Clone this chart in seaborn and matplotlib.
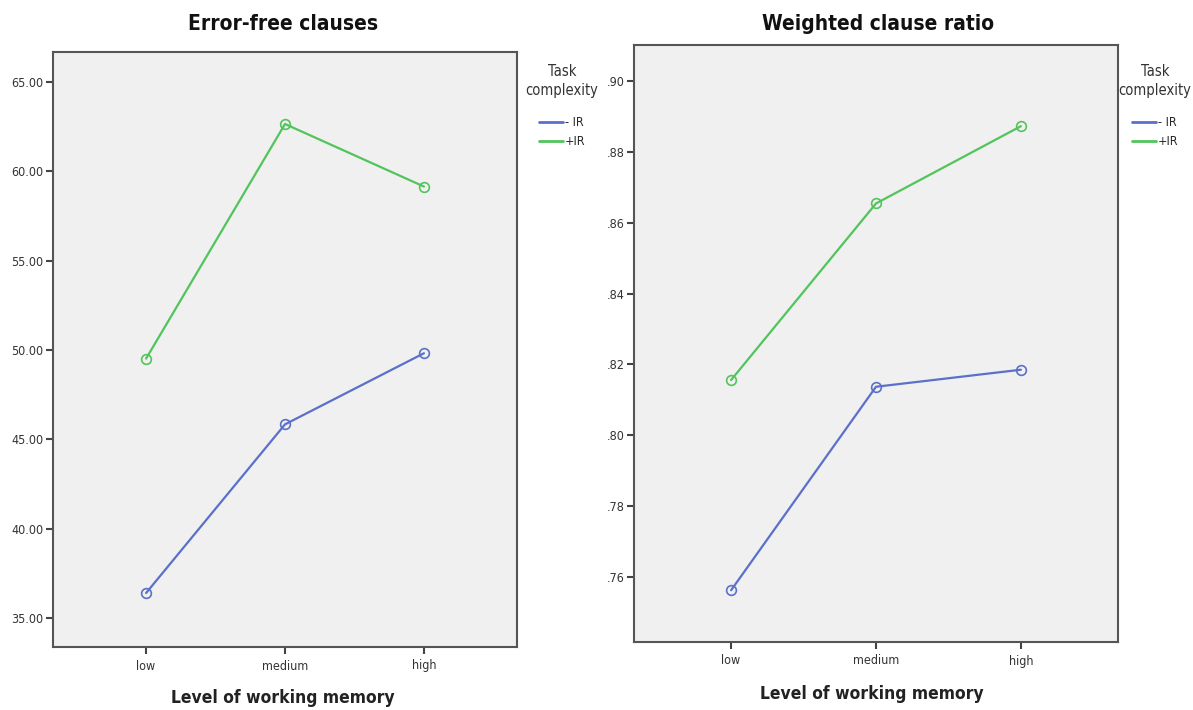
import numpy as np
import pandas as pd
import matplotlib
matplotlib.use("Agg")
import matplotlib.pyplot as plt
import seaborn as sns
from matplotlib.lines import Line2D
import logging
logging.getLogger("matplotlib.font_manager").setLevel(logging.ERROR)

# ---- data ----
wm_levels = ["low", "medium", "high"]
groups = ["- IR", "+IR"]
errfree_minus = [36.40, 45.84, 49.82]
errfree_plus = [49.52, 62.65, 59.15]
wcr_minus = [0.7563, 0.8137, 0.8185]
wcr_plus = [0.8156, 0.8654, 0.8872]
left_ticks = [35, 40, 45, 50, 55, 60, 65]
right_ticks = [0.76, 0.78, 0.80, 0.82, 0.84, 0.86, 0.88, 0.90]

colors = {"- IR": "#5b70c9", "+IR": "#52c45c"}

NARROW = ["DejaVu Sans Condensed", "Liberation Sans Narrow", "DejaVu Sans"]

sns.set_theme(style="white")
plt.rcParams["font.family"] = NARROW
plt.rcParams["font.stretch"] = "condensed"

def make_df(minus, plus):
    return pd.DataFrame({
        "wm": wm_levels * 2,
        "group": [groups[0]] * 3 + [groups[1]] * 3,
        "value": list(minus) + list(plus),
    })

W, H = 1193, 710
fig = plt.figure(figsize=(W / 100, H / 100), dpi=100)
ax1 = fig.add_axes([53/W, 63/H, 464/W, 595/H])
ax2 = fig.add_axes([634/W, 68/H, 484/W, 597/H])

def draw(ax, df, ylim, ticks, fmt, title, title_x, leg_x, xlab_x, xlab_y):
    sns.lineplot(data=df, x="wm", y="value", hue="group", palette=colors,
                 hue_order=groups, marker="o", markersize=7, linewidth=1.6,
                 sort=False, legend=False, ax=ax)
    for ln in ax.lines:
        c = ln.get_color()
        ln.set_markerfacecolor("none")
        ln.set_markeredgecolor(c)
        ln.set_markeredgewidth(1.2)
    ax.set_facecolor("#f0f0f0")
    for s in ax.spines.values():
        s.set_visible(True)
        s.set_color("#555555")
        s.set_linewidth(1.5)
    ax.set_xlim(-0.67, 2.67)
    ax.set_ylim(*ylim)
    ax.set_yticks(ticks)
    ax.set_yticklabels([fmt(t) for t in ticks])
    ax.tick_params(axis="both", direction="out", length=5, width=1.5,
                   color="#444444", labelsize=9, labelcolor="#333333",
                   left=True, bottom=True, pad=2)
    ax.tick_params(axis="x", pad=4)
    ax.set_xlabel("")
    ax.set_ylabel("")
    fig.text(xlab_x / W, 1 - xlab_y / H, "Level of working memory",
             fontsize=12.5, fontweight="bold", color="#222222",
             ha="center", va="center")
    fig.text(title_x / W, 1 - 24 / H, title, fontsize=15, fontweight="bold",
             color="#111111", ha="center", va="center")
    handles = [Line2D([0], [0], color=colors[g], lw=2) for g in groups]
    leg = ax.legend(handles, groups, title="Task\ncomplexity",
                    loc="upper center", bbox_to_anchor=(leg_x / W, 1 - 64 / H),
                    bbox_transform=fig.transFigure,
                    frameon=False, fontsize=9, title_fontsize=10.5,
                    handlelength=1.9, handletextpad=0.15, labelspacing=0.45,
                    borderaxespad=0, borderpad=0)
    leg._legend_box.align = "center"
    leg._legend_box.sep = 13
    t = leg.get_title()
    t.set_color("#333333")
    t.set_multialignment("center")
    t.set_linespacing(1.35)

draw(ax1, make_df(errfree_minus, errfree_plus), (33.38, 66.68), left_ticks,
     lambda t: f"{t:.2f}", "Error-free clauses", 283, 562, 283, 698)
draw(ax2, make_df(wcr_minus, wcr_plus), (0.7417, 0.9101), right_ticks,
     lambda t: f"{t:.2f}"[1:], "Weighted clause ratio", 878, 1155, 872, 694)

fig.savefig("out.png", dpi=100, facecolor="white")
